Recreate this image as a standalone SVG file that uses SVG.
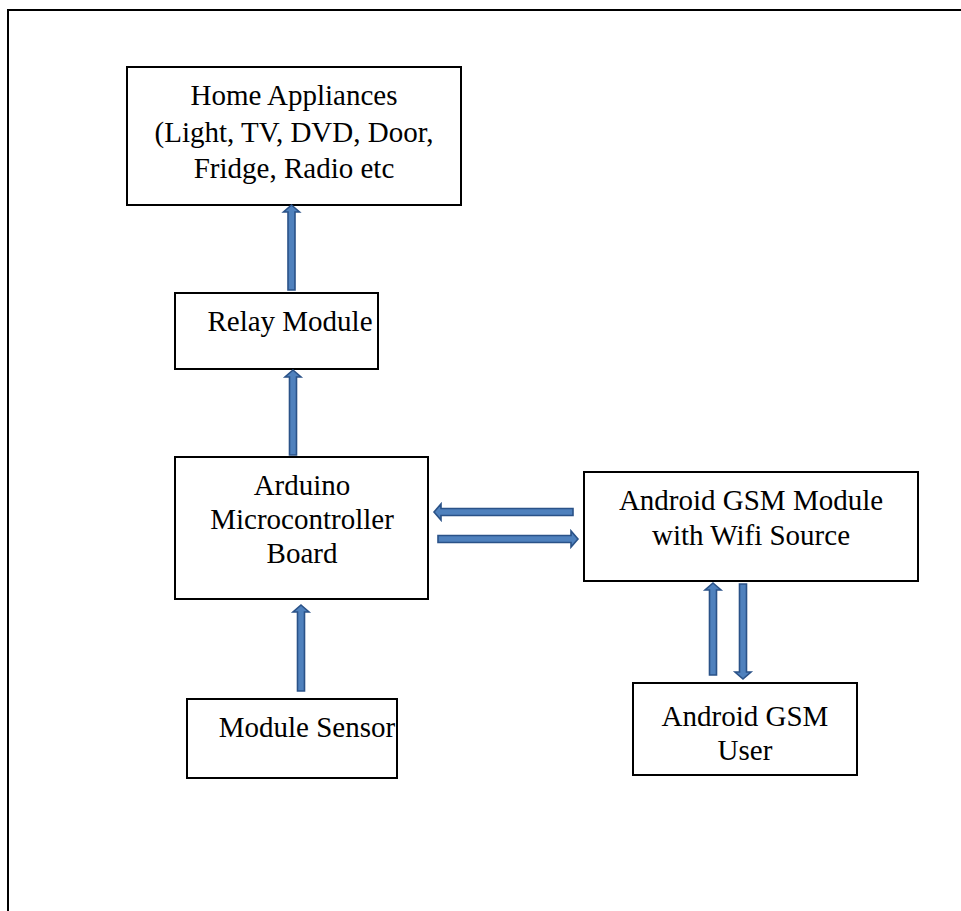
<svg xmlns="http://www.w3.org/2000/svg" width="961" height="911" viewBox="0 0 961 911">
<style>
.box{fill:#fff;stroke:#000;stroke-width:2}
.t{font-family:'Liberation Serif', Tinos, 'Times New Roman', Times, 'DejaVu Serif', serif;font-size:29px;fill:#000;text-anchor:middle}
.arr{fill:#4f81bd;stroke:#2a5288;stroke-width:1.6;stroke-linejoin:miter}
</style>
<rect width="961" height="911" fill="#fff"/>
<g id="frame" fill="none" stroke="#000" stroke-width="2">
<path d="M8 911 V10 H961"/>
</g>
<g id="home">
<rect class="box" x="127" y="67" width="334" height="138"/>
<text class="t" x="294" y="105" font-family="Liberation Serif">Home Appliances</text>
<text class="t" x="294" y="141.5">(Light, TV, DVD, Door,</text>
<text class="t" x="294" y="178">Fridge, Radio etc</text>
</g>
<g id="relay">
<rect class="box" x="175" y="293" width="203" height="76"/>
<text class="t" x="290" y="331">Relay Module</text>
</g>
<g id="arduino">
<rect class="box" x="175" y="457" width="253" height="142"/>
<text class="t" x="302" y="495">Arduino</text>
<text class="t" x="302" y="529">Microcontroller</text>
<text class="t" x="302" y="563">Board</text>
</g>
<g id="gsm">
<rect class="box" x="584" y="472" width="334" height="109"/>
<text class="t" x="751" y="510">Android GSM Module</text>
<text class="t" x="751" y="545">with Wifi Source</text>
</g>
<g id="sensor">
<rect class="box" x="187" y="699" width="210" height="79"/>
<text class="t" x="307" y="737">Module Sensor</text>
</g>
<g id="user">
<rect class="box" x="633" y="683" width="224" height="92"/>
<text class="t" x="745" y="726">Android GSM</text>
<text class="t" x="745" y="760">User</text>
</g>
<g id="connectors">
<path class="arr" d="M291.5 205 L299.5 212 L295 212 L295 290 L288 290 L288 212 L283.5 212 Z"/>
<path class="arr" d="M293 370 L301 377 L296.5 377 L296.5 455 L289.5 455 L289.5 377 L285 377 Z"/>
<path class="arr" d="M434 512 L441 504 L441 508.5 L573 508.5 L573 515.5 L441 515.5 L441 520 Z"/>
<path class="arr" d="M578 539 L571 531 L571 535.5 L438 535.5 L438 542.5 L571 542.5 L571 547 Z"/>
<path class="arr" d="M301 605 L309 612 L304.5 612 L304.5 691 L297.5 691 L297.5 612 L293 612 Z"/>
<path class="arr" d="M713 583 L721 590 L716.5 590 L716.5 675 L709.5 675 L709.5 590 L705 590 Z"/>
<path class="arr" d="M743 679 L751 672 L746.5 672 L746.5 584 L739.5 584 L739.5 672 L735 672 Z"/>
</g>
</svg>
